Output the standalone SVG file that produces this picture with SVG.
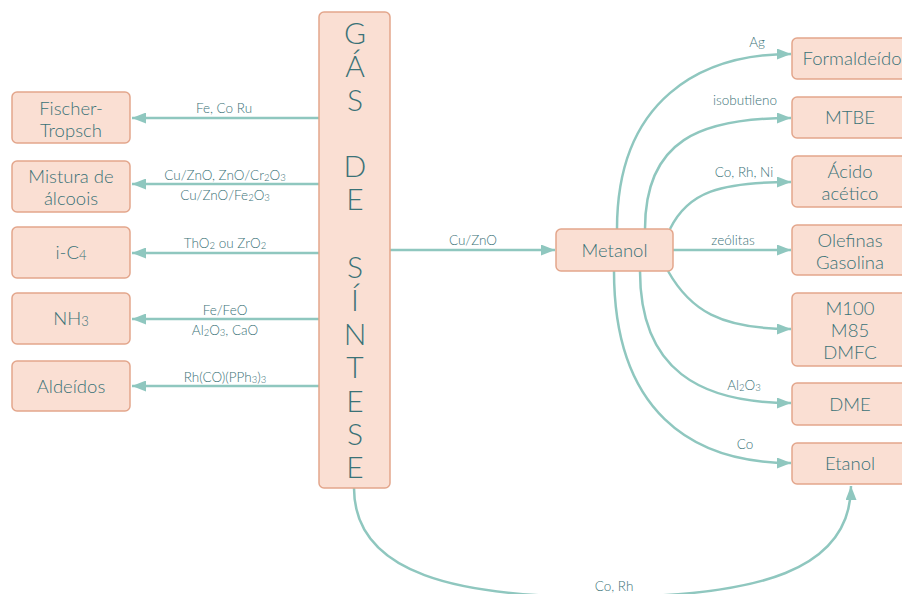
<svg xmlns="http://www.w3.org/2000/svg" width="902" height="594" viewBox="0 0 902 594">
<defs>
<style>
.box{fill:#FADFD3;stroke:#E3A68C;stroke-width:1.5}
.t{font-family:Lato,"Open Sans","Liberation Sans",sans-serif;font-weight:300;fill:#3A7277;text-anchor:middle}
.bt{font-size:18.5px}
.lt{font-size:13.5px}
.big{font-size:30px}
.c{fill:none;stroke:#8FC7BF;stroke-width:2.5}
.s{font-size:9.5px}
</style>
<marker id="ah" markerUnits="userSpaceOnUse" markerWidth="15" markerHeight="11" refX="14" refY="5.5" orient="auto">
<path d="M0,0 L14,5.5 L0,11 z" fill="#8FC7BF"/>
</marker>
</defs>
<rect width="902" height="594" fill="#FFFFFF"/>

<g id="connectors">
<path class="c" d="M319,118 H132" marker-end="url(#ah)"/>
<path class="c" d="M319,184 H132" marker-end="url(#ah)"/>
<path class="c" d="M319,253 H132" marker-end="url(#ah)"/>
<path class="c" d="M319,319 H132" marker-end="url(#ah)"/>
<path class="c" d="M319,386 H132" marker-end="url(#ah)"/>
<path class="c" d="M390,250 H555" marker-end="url(#ah)"/>
<path class="c" d="M617,229 C617,100 700,54 791,54" marker-end="url(#ah)"/>
<path class="c" d="M645,229 C645,140 700,118 791,118" marker-end="url(#ah)"/>
<path class="c" d="M670,229 C688,192 720,182 791,182" marker-end="url(#ah)"/>
<path class="c" d="M673,250 H791" marker-end="url(#ah)"/>
<path class="c" d="M668,271 C690,310 720,329 791,329" marker-end="url(#ah)"/>
<path class="c" d="M640,271 C640,370 700,403 791,403" marker-end="url(#ah)"/>
<path class="c" d="M614,271 C614,410 690,463 791,463" marker-end="url(#ah)"/>
<path class="c" d="M354,488 C354,575 460,597 600,597 C760,597 851,570 851,486" marker-end="url(#ah)"/>
<text class="t lt" x="224" y="113">Fe, Co Ru</text>
<text class="t lt" x="225" y="180">Cu/ZnO, ZnO/Cr<tspan class="s" dy="1">2</tspan><tspan dy="-1">O</tspan><tspan class="s" dy="1">3</tspan></text>
<text class="t lt" x="225" y="200">Cu/ZnO/Fe<tspan class="s" dy="1">2</tspan><tspan dy="-1">O</tspan><tspan class="s" dy="1">3</tspan></text>
<text class="t lt" x="225" y="248">ThO<tspan class="s" dy="1">2</tspan><tspan dy="-1"> ou ZrO</tspan><tspan class="s" dy="1">2</tspan></text>
<text class="t lt" x="225" y="315">Fe/FeO</text>
<text class="t lt" x="225" y="335">Al<tspan class="s" dy="1">2</tspan><tspan dy="-1">O</tspan><tspan class="s" dy="1">3</tspan><tspan dy="-1">, CaO</tspan></text>
<text class="t lt" x="225" y="382">Rh(CO)(PPh<tspan class="s" dy="1">3</tspan><tspan dy="-1">)</tspan><tspan class="s" dy="1">3</tspan></text>
<text class="t lt" x="473" y="245">Cu/ZnO</text>
<text class="t lt" x="757" y="47">Ag</text>
<text class="t lt" x="745" y="105">isobutileno</text>
<text class="t lt" x="744" y="177">Co, Rh, Ni</text>
<text class="t lt" x="733" y="245">zeólitas</text>
<text class="t lt" x="744" y="390">Al<tspan class="s" dy="1">2</tspan><tspan dy="-1">O</tspan><tspan class="s" dy="1">3</tspan></text>
<text class="t lt" x="745" y="449">Co</text>
<text class="t lt" x="614" y="591">Co, Rh</text>
</g>

<g id="gas">
<rect class="box" x="319" y="12" width="71" height="476" rx="5"/>
<text class="t big" x="355" y="44">G</text>
<text class="t big" x="355" y="77">Á</text>
<text class="t big" x="355" y="111">S</text>
<text class="t big" x="355" y="177">D</text>
<text class="t big" x="355" y="210">E</text>
<text class="t big" x="355" y="278">S</text>
<text class="t big" x="355" y="311">Í</text>
<text class="t big" x="355" y="345">N</text>
<text class="t big" x="355" y="378">T</text>
<text class="t big" x="355" y="412">E</text>
<text class="t big" x="355" y="445">S</text>
<text class="t big" x="355" y="478">E</text>
</g>

<g id="fischer">
<rect class="box" x="12" y="92" width="118" height="51" rx="5"/>
<text class="t bt" x="71" y="115">Fischer-</text>
<text class="t bt" x="71" y="137">Tropsch</text>
</g>
<g id="mistura">
<rect class="box" x="12" y="161" width="118" height="51" rx="5"/>
<text class="t bt" x="71" y="183">Mistura de</text>
<text class="t bt" x="71" y="205">álcoois</text>
</g>
<g id="ic4">
<rect class="box" x="12" y="227" width="118" height="51" rx="5"/>
<text class="t bt" x="71" y="259">i-C<tspan font-size="13" dy="1">4</tspan></text>
</g>
<g id="nh3">
<rect class="box" x="12" y="293" width="118" height="51" rx="5"/>
<text class="t bt" x="71" y="325">NH<tspan font-size="13" dy="1">3</tspan></text>
</g>
<g id="aldeidos">
<rect class="box" x="12" y="361" width="118" height="50" rx="5"/>
<text class="t bt" x="71" y="392.5">Aldeídos</text>
</g>

<g id="metanol">
<rect class="box" x="556" y="229" width="117" height="42" rx="5"/>
<text class="t bt" x="614.5" y="256.5">Metanol</text>
</g>

<g id="formaldeido">
<rect class="box" x="792" y="38" width="118" height="41" rx="5"/>
<text class="t bt" x="852" y="65">Formaldeído</text>
</g>
<g id="mtbe">
<rect class="box" x="792" y="97" width="118" height="41" rx="5"/>
<text class="t bt" x="850" y="124">MTBE</text>
</g>
<g id="acido">
<rect class="box" x="792" y="156" width="118" height="51" rx="5"/>
<text class="t bt" x="850" y="178">Ácido</text>
<text class="t bt" x="850" y="200">acético</text>
</g>
<g id="olefinas">
<rect class="box" x="792" y="225" width="118" height="50" rx="5"/>
<text class="t bt" x="850" y="247">Olefinas</text>
<text class="t bt" x="850" y="269">Gasolina</text>
</g>
<g id="m100">
<rect class="box" x="792" y="293" width="118" height="73" rx="5"/>
<text class="t bt" x="850" y="315">M100</text>
<text class="t bt" x="850" y="337">M85</text>
<text class="t bt" x="850" y="359">DMFC</text>
</g>
<g id="dme">
<rect class="box" x="792" y="383" width="118" height="42" rx="5"/>
<text class="t bt" x="850" y="410.5">DME</text>
</g>
<g id="etanol">
<rect class="box" x="792" y="443" width="118" height="41" rx="5"/>
<text class="t bt" x="850" y="470">Etanol</text>
</g>
</svg>
